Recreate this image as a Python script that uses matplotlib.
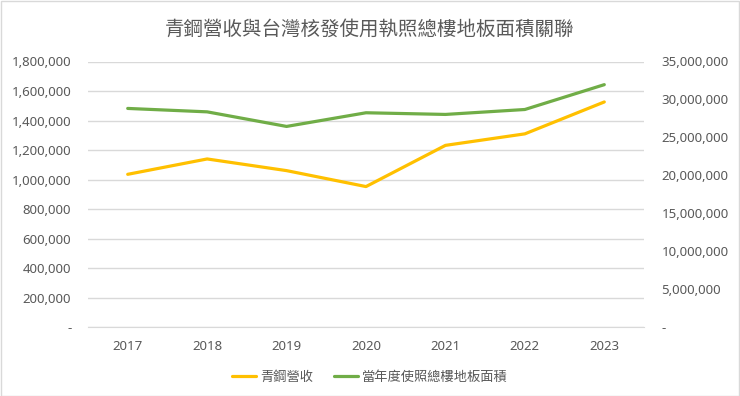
import matplotlib
matplotlib.use("Agg")
import matplotlib.pyplot as plt
from matplotlib.ticker import FuncFormatter, MultipleLocator
from matplotlib.patches import Rectangle

years = ["2017", "2018", "2019", "2020", "2021", "2022", "2023"]
revenue = [1036000, 1140000, 1061000, 953000, 1232000, 1310000, 1526000]
floor_area = [28820000, 28370000, 26450000, 28250000, 28030000, 28680000, 31950000]
title = "青鋼營收與台灣核發使用執照總樓地板面積關聯"
label_rev = "青鋼營收"
label_area = "當年度使照總樓地板面積"

plt.rcParams['font.family'] = ['Noto Sans', 'Noto Sans CJK TC', 'DejaVu Sans']
gray = "#595959"
grid = "#d9d9d9"
yellow = "#FFC000"
green = "#70AD47"

fig = plt.figure(figsize=(7.40, 3.96), dpi=100)
ax = fig.add_axes([88/740, 1-327.3/396, (644-88)/740, (327.3-61.5)/396])
ax2 = ax.twinx()

x = list(range(len(years)))
l1, = ax.plot(x, revenue, color=yellow, lw=2.3, solid_capstyle='round', label=label_rev)
l2, = ax2.plot(x, floor_area, color=green, lw=2.3, solid_capstyle='round', label=label_area)

ax.set_xlim(-0.5, len(years) - 0.5)
ax.set_ylim(0, 1800000)
ax2.set_ylim(0, 35000000)
ax.yaxis.set_major_locator(MultipleLocator(200000))
ax2.yaxis.set_major_locator(MultipleLocator(5000000))

def fmt(v, pos):
    return "-" if v == 0 else f"{int(v):,}"
ax.yaxis.set_major_formatter(FuncFormatter(fmt))
ax2.yaxis.set_major_formatter(FuncFormatter(fmt))

ax.set_xticks(x)
ax.set_xticklabels(years)
ax.grid(axis='y', color=grid, lw=1)
ax.set_axisbelow(True)
for a in (ax, ax2):
    for s in a.spines.values():
        s.set_visible(False)
    a.tick_params(length=0, labelsize=9.5, colors=gray)
ax.spines['bottom'].set_visible(True)
ax.spines['bottom'].set_color(grid)
ax.tick_params(axis='y', pad=12)
ax2.tick_params(axis='y', pad=12.5)
ax.tick_params(axis='x', pad=9)

fig.text(370/740, 1-29/396, title, ha='center', va='center', fontsize=14,
         color=gray, family=['Noto Sans CJK TC', 'DejaVu Sans'])

leg = fig.legend(handles=[l1, l2], loc='center', bbox_to_anchor=(370/740, 1-377/396),
                 ncol=2, frameon=False, fontsize=9.5, handlelength=1.8,
                 handletextpad=0.3, columnspacing=1.6,
                 prop={'family': ['Noto Sans CJK TC', 'DejaVu Sans'], 'size': 9.5})
for t in leg.get_texts():
    t.set_color(gray)

fig.patches.append(Rectangle((0.5/740, 0.5/396), 738/740, 394.5/396, transform=fig.transFigure,
                             fill=False, edgecolor=grid, lw=1))
fig.savefig("out.png", dpi=100, facecolor='white')
